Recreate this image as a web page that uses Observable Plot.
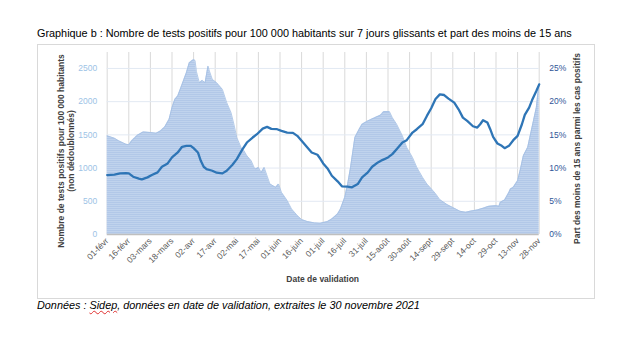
<!DOCTYPE html>
<html>
<head>
<meta charset="utf-8">
<script src="https://cdn.jsdelivr.net/npm/d3@7"></script>
<script src="https://cdn.jsdelivr.net/npm/@observablehq/plot@0.6"></script>
<style>
  body { margin: 0; background: #fff; }
  #wrap { position: relative; width: 635px; height: 353px; font-family: "Liberation Sans", Arial, sans-serif; overflow: hidden; }
  #title { position: absolute; left: 37px; top: 27px; font-size: 10.85px; color: #000; white-space: nowrap; line-height: 12px; }
  #chart { position: absolute; left: 0; top: 0; }
  #box { position: absolute; left: 37px; top: 44px; width: 558px; height: 255px; border: 1px solid #d9d9d9; box-sizing: border-box; pointer-events: none; }
  #caption { position: absolute; left: 37px; top: 299px; font-size: 10.85px; font-style: italic; color: #000; white-space: nowrap; line-height: 12px; }
  .sp { text-decoration: underline wavy #e03030; text-decoration-thickness: 1px; }
</style>
</head>
<body>
<div id="wrap">
  <div id="title">Graphique b : Nombre de tests positifs pour 100 000 habitants sur 7 jours glissants et part des moins de 15 ans</div>
  <div id="chart"></div>
  <div id="box"></div>
  <div id="caption">Données : <span class="sp">Sidep</span>, données en date de validation, extraites le 30 novembre 2021</div>
</div>
<script>
// Nombre de tests positifs pour 100 000 habitants (aire)
const areaDates = ["02-01","02-06","02-09","02-14","02-16","02-18","02-22","02-26","03-03","03-07","03-10","03-13","03-16","03-18","03-20","03-22","03-25","03-28","03-30","04-02","04-03","04-04","04-06","04-08","04-10","04-12","04-13","04-15","04-18","04-22","04-25","04-28","04-30","05-02","05-05","05-07","05-09","05-12","05-14","05-15","05-17","05-19","05-21","05-23","05-25","05-29","05-31","06-02","06-06","06-09","06-13","06-16","06-20","06-25","06-29","07-04","07-07","07-11","07-13","07-16","07-18","07-20","07-22","07-23","07-26","07-28","08-01","08-05","08-10","08-12","08-16","08-18","08-21","08-25","08-28","09-01","09-04","09-08","09-11","09-14","09-17","09-20","09-25","09-30","10-04","10-08","10-11","10-16","10-20","10-24","10-29","10-31","11-01","11-04","11-07","11-08","11-10","11-13","11-15","11-17","11-20","11-22","11-24","11-26","11-27","11-28"];
const areaValues = [1485,1450,1410,1360,1350,1410,1495,1545,1535,1525,1560,1620,1735,1910,2035,2085,2260,2435,2585,2635,2620,2450,2285,2320,2285,2535,2460,2335,2285,2185,1985,1835,1660,1460,1310,1260,1185,1110,1010,985,1010,935,1010,885,760,710,760,635,510,385,285,225,195,175,170,195,235,310,385,560,760,1010,1310,1460,1585,1660,1710,1750,1800,1850,1850,1760,1660,1485,1310,1160,1010,860,760,690,615,525,450,395,350,335,350,370,395,425,435,425,485,520,635,685,710,810,985,1185,1310,1510,1710,1910,2110,2270];

// Part des moins de 15 ans parmi les cas positifs (%, ligne)
const lineDates = ["02-01","02-06","02-10","02-14","02-16","02-19","02-23","02-25","03-01","03-04","03-08","03-11","03-15","03-18","03-22","03-25","03-28","03-31","04-02","04-05","04-07","04-09","04-11","04-15","04-18","04-22","04-25","04-29","05-02","05-06","05-09","05-13","05-16","05-20","05-23","05-26","05-30","06-02","06-06","06-10","06-13","06-16","06-20","06-23","06-27","06-29","07-01","07-04","07-07","07-11","07-14","07-18","07-21","07-25","07-28","08-01","08-04","08-08","08-11","08-15","08-18","08-21","08-25","08-28","09-01","09-04","09-08","09-11","09-14","09-17","09-20","09-23","09-26","09-30","10-03","10-06","10-09","10-13","10-16","10-18","10-20","10-23","10-25","10-27","10-30","11-02","11-04","11-07","11-10","11-13","11-16","11-18","11-21","11-23","11-26","11-28"];
const linePct = [8.95,9.0,9.2,9.25,9.2,8.7,8.4,8.3,8.6,8.95,9.35,10.2,10.7,11.6,12.35,13.2,13.35,13.35,13.0,12.35,11.1,10.2,9.85,9.6,9.3,9.2,9.6,10.5,11.35,12.85,13.85,14.6,15.1,15.95,16.2,15.9,15.85,15.6,15.35,15.3,14.85,14.1,13.1,12.35,12.0,11.4,10.7,9.95,8.85,8.0,7.25,7.2,7.1,7.6,8.6,9.35,10.2,10.85,11.2,11.6,12.1,12.85,13.85,14.2,15.35,15.85,16.6,17.85,19.0,20.4,21.1,21.0,20.45,19.85,18.85,17.6,17.1,16.3,16.1,16.6,17.2,16.85,15.85,14.7,13.7,13.35,13.0,13.35,14.2,14.85,16.6,18.0,19.1,20.2,21.6,22.6];

// Axes
const tickDates = ["2021-02-01","2021-02-16","2021-03-03","2021-03-18","2021-04-02","2021-04-17","2021-05-02","2021-05-17","2021-06-01","2021-06-16","2021-07-01","2021-07-16","2021-07-31","2021-08-15","2021-08-30","2021-09-14","2021-09-29","2021-10-14","2021-10-29","2021-11-13","2021-11-28"];
const tickLabels = ["01-févr","16-févr","03-mars","18-mars","02-avr","17-avr","02-mai","17-mai","01-juin","16-juin","01-juil","16-juil","31-juil","15-août","30-août","14-sept","29-sept","14-oct","29-oct","13-nov","28-nov"];
const leftTicks = [0, 500, 1000, 1500, 2000, 2500];
const rightTicks = [0, 5, 10, 15, 20, 25]; // %

const yLeftTitle1 = "Nombre de tests positifs pour 100 000 habitants";
const yLeftTitle2 = "(non dédoublonnés)";
const yRightTitle = "Part des moins de 15 ans parmi les cas positifs";
const xTitle = "Date de validation";

const parse = s => new Date("2021-" + s + "T00:00:00Z");
const area = areaDates.map((d, i) => ({date: parse(d), value: areaValues[i]}));
const line = lineDates.map((d, i) => ({date: parse(d), pct: linePct[i]}));
const ticks = tickDates.map(s => new Date(s + "T00:00:00Z"));
const labelMap = new Map(ticks.map((t, i) => [+t, tickLabels[i]]));
// right axis: 25 % corresponds to 2500 on left axis
const ratio = 100;

const chart = Plot.plot({
  width: 635,
  height: 353,
  marginLeft: 106.7,
  marginRight: 96.3,
  marginTop: 52,
  marginBottom: 119,
  x: {type: "utc", domain: [ticks[0], ticks[ticks.length - 1]]},
  y: {domain: [0, 2740]},
  style: {fontFamily: "'Liberation Sans', Arial, sans-serif", fontSize: "8.5px", background: "transparent", overflow: "visible"},
  marks: [
    Plot.ruleX(ticks, {stroke: "#d9d9d9", strokeWidth: 1}),
    Plot.ruleY(leftTicks.filter(v => v > 0), {stroke: "#e2e9f3", strokeWidth: 1}),
    Plot.areaY(area, {x: "date", y: "value", fill: "url(#stripes)"}),
    Plot.lineY(area, {x: "date", y: "value", stroke: "#a3bfe3", strokeWidth: 0.8}),
    Plot.lineY(line, {x: "date", y: d => d.pct * ratio, stroke: "#2e75b6", strokeWidth: 2.3}),
    Plot.ruleY([0], {stroke: "#bfbfbf", strokeWidth: 1.5}),
    Plot.axisY({anchor: "left", ticks: leftTicks, tickSize: 0, tickPadding: 10, tickFormat: d => String(d), fill: "#9dc3e6", label: null}),
    Plot.axisY({anchor: "right", ticks: rightTicks.map(v => v * ratio), tickSize: 0, tickPadding: 10, tickFormat: d => (d / ratio) + "%", fill: "#2f5597", label: null}),
    Plot.axisX({ticks: ticks, tickFormat: d => labelMap.get(+d), tickRotate: -45, tickSize: 0, tickPadding: 5, fill: "#595959", label: null})
  ]
});
document.getElementById("chart").appendChild(chart);

const svg = d3.select(chart);
const defs = svg.insert("defs", ":first-child");
const pat = defs.append("pattern").attr("id", "stripes").attr("patternUnits", "userSpaceOnUse").attr("width", 4).attr("height", 2);
pat.append("rect").attr("width", 4).attr("height", 2).attr("fill", "#c0d3ed");
pat.append("rect").attr("width", 4).attr("height", 1).attr("fill", "#b2c8e8");

const titleStyle = t => t.attr("font-family", "'Liberation Sans', Arial, sans-serif").attr("font-size", "8.5px").attr("font-weight", "bold").attr("fill", "#404040").attr("text-anchor", "middle");
titleStyle(svg.append("text")).attr("transform", "translate(63.5,151) rotate(-90)").text(yLeftTitle1);
titleStyle(svg.append("text")).attr("transform", "translate(73.5,151) rotate(-90)").text(yLeftTitle2);
titleStyle(svg.append("text")).attr("transform", "translate(580,148.5) rotate(-90)").text(yRightTitle);
titleStyle(svg.append("text")).attr("x", 322.7).attr("y", 282).text(xTitle);
</script>
</body>
</html>
